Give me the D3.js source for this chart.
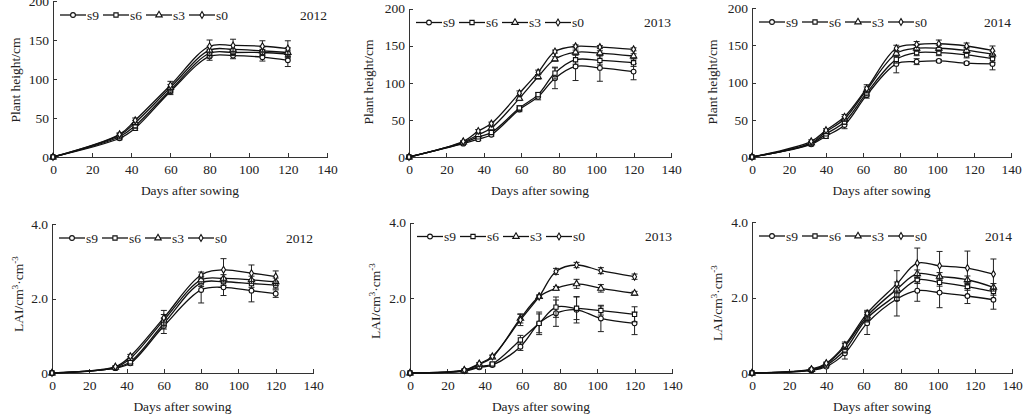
<!doctype html>
<html>
<head>
<meta charset="utf-8">
<script src="https://cdn.jsdelivr.net/npm/d3@7"></script>
<style>
  body { margin: 0; background: #fff; }
  svg { display: block; font-family: "Liberation Serif", "Times New Roman", serif; }
  .axis path, .axis line { stroke: #333; shape-rendering: crispEdges; }
  .axis text { font-size: 13.5px; fill: #222; font-family: "Liberation Serif", serif; }
  .lbl { font-size: 13.5px; fill: #222; }
</style>
</head>
<body>
<svg width="1027" height="414"></svg>
<script>
// sampling days for each year
var days2012 = [0, 34, 42, 60, 80, 92, 107, 120];
var days2013 = [0, 29, 37, 44, 59, 69, 78, 89, 102, 120];
var days2014 = [0, 32, 40, 50, 62, 78, 89, 101, 116, 130];

var seriesNames = ["s9", "s6", "s3", "s0"];
var xTicks = [0, 20, 40, 60, 80, 100, 120, 140];
var heightTicks = [0, 50, 100, 150, 200];
var laiTicks = [0, 2, 4];

// plant height (cm)
var h12_s9 = [0, 24, 37, 84, 129, 130, 128, 124];
var h12_s6 = [0, 26, 40, 86, 133, 134, 134, 132];
var h12_s3 = [0, 28, 44, 89, 137, 138, 136, 134];
var h12_s0 = [0, 29, 47, 92, 142, 143, 142, 139];
var h12_s9_e = [0, 2, 3, 4, 5, 4, 5, 8];
var h12_s6_e = [0, 2, 3, 4, 5, 4, 4, 5];
var h12_s3_e = [0, 2, 3, 4, 5, 5, 5, 6];
var h12_s0_e = [0, 2, 3, 5, 8, 8, 7, 10];

var h13_s9 = [0, 18, 24, 30, 64, 81, 106, 122, 120, 115];
var h13_s6 = [0, 19, 27, 33, 66, 84, 113, 131, 130, 127];
var h13_s3 = [0, 20, 30, 39, 79, 108, 132, 141, 140, 136];
var h13_s0 = [0, 21, 35, 45, 86, 114, 142, 149, 148, 145];
var h13_s9_e = [0, 1, 2, 2, 3, 4, 14, 19, 18, 11];
var h13_s6_e = [0, 1, 2, 2, 3, 3, 8, 6, 6, 5];
var h13_s3_e = [0, 1, 2, 2, 3, 3, 3, 3, 3, 3];
var h13_s0_e = [0, 1, 2, 2, 3, 3, 2, 2, 2, 2];

var h14_s9 = [0, 17, 28, 43, 83, 125, 128, 129, 126, 125];
var h14_s6 = [0, 18, 31, 47, 86, 131, 140, 140, 137, 132];
var h14_s3 = [0, 19, 34, 51, 90, 139, 146, 146, 143, 138];
var h14_s0 = [0, 21, 36, 54, 92, 146, 151, 152, 149, 143];
var h14_s9_e = [0, 2, 3, 5, 4, 12, 4, 2, 2, 8];
var h14_s6_e = [0, 2, 2, 3, 4, 5, 4, 4, 4, 5];
var h14_s3_e = [0, 2, 2, 3, 4, 4, 4, 4, 4, 4];
var h14_s0_e = [0, 2, 2, 3, 5, 4, 4, 5, 4, 6];

// LAI
var l12_s9 = [0, 0.13, 0.26, 1.26, 2.23, 2.30, 2.21, 2.13];
var l12_s6 = [0, 0.14, 0.30, 1.33, 2.42, 2.45, 2.40, 2.36];
var l12_s3 = [0, 0.15, 0.39, 1.42, 2.50, 2.54, 2.50, 2.45];
var l12_s0 = [0, 0.17, 0.45, 1.48, 2.63, 2.77, 2.68, 2.59];
var l12_s9_e = [0, 0.02, 0.05, 0.2, 0.35, 0.22, 0.3, 0.1];
var l12_s6_e = [0, 0.02, 0.05, 0.15, 0.1, 0.1, 0.1, 0.1];
var l12_s3_e = [0, 0.02, 0.05, 0.15, 0.1, 0.1, 0.1, 0.1];
var l12_s0_e = [0, 0.02, 0.05, 0.2, 0.08, 0.3, 0.22, 0.15];

var l13_s9 = [0, 0.05, 0.15, 0.21, 0.70, 1.32, 1.59, 1.68, 1.45, 1.32];
var l13_s6 = [0, 0.06, 0.17, 0.24, 0.88, 1.32, 1.75, 1.72, 1.66, 1.56];
var l13_s3 = [0, 0.07, 0.23, 0.42, 1.45, 2.03, 2.25, 2.37, 2.25, 2.12];
var l13_s0 = [0, 0.08, 0.25, 0.44, 1.41, 2.03, 2.70, 2.87, 2.72, 2.56];
var l13_s9_e = [0, 0.02, 0.03, 0.04, 0.1, 0.3, 0.35, 0.35, 0.35, 0.3];
var l13_s6_e = [0, 0.02, 0.03, 0.04, 0.12, 0.25, 0.27, 0.3, 0.12, 0.2];
var l13_s3_e = [0, 0.02, 0.03, 0.04, 0.12, 0.04, 0.05, 0.12, 0.1, 0.05];
var l13_s0_e = [0, 0.02, 0.03, 0.04, 0.15, 0.04, 0.08, 0.07, 0.08, 0.07];

var l14_s9 = [0, 0.07, 0.17, 0.52, 1.32, 1.96, 2.18, 2.13, 2.04, 1.94];
var l14_s6 = [0, 0.08, 0.21, 0.61, 1.45, 2.07, 2.47, 2.40, 2.29, 2.16];
var l14_s3 = [0, 0.09, 0.24, 0.70, 1.51, 2.22, 2.63, 2.56, 2.47, 2.27];
var l14_s0 = [0, 0.10, 0.26, 0.74, 1.58, 2.36, 2.91, 2.84, 2.78, 2.62];
var l14_s9_e = [0, 0.02, 0.03, 0.15, 0.3, 0.45, 0.28, 0.4, 0.2, 0.25];
var l14_s6_e = [0, 0.02, 0.03, 0.08, 0.1, 0.15, 0.1, 0.1, 0.1, 0.1];
var l14_s3_e = [0, 0.02, 0.03, 0.08, 0.1, 0.1, 0.1, 0.1, 0.1, 0.1];
var l14_s0_e = [0, 0.02, 0.03, 0.08, 0.08, 0.35, 0.4, 0.38, 0.45, 0.4];

var symbols = [d3.symbolCircle, d3.symbolSquare, d3.symbolTriangle, d3.symbolDiamond];
var symSizes = [18, 18, 18, 14];

// panel boxes (pixel layout)
var panels = [
  {x0: 53, x1: 327, y0: 157, y1: 1, year: "2012", days: days2012, kind: "h",
   vals: [h12_s9, h12_s6, h12_s3, h12_s0], errs: [h12_s9_e, h12_s6_e, h12_s3_e, h12_s0_e], yt: [15, 80]},
  {x0: 409, x1: 671, y0: 157, y1: 8.5, year: "2013", days: days2013, kind: "h",
   vals: [h13_s9, h13_s6, h13_s3, h13_s0], errs: [h13_s9_e, h13_s6_e, h13_s3_e, h13_s0_e], yt: [368, 82]},
  {x0: 752, x1: 1011, y0: 157, y1: 8, year: "2014", days: days2014, kind: "h",
   vals: [h14_s9, h14_s6, h14_s3, h14_s0], errs: [h14_s9_e, h14_s6_e, h14_s3_e, h14_s0_e], yt: [712, 82]},
  {x0: 52, x1: 313, y0: 373, y1: 224, year: "2012", days: days2012, kind: "l",
   vals: [l12_s9, l12_s6, l12_s3, l12_s0], errs: [l12_s9_e, l12_s6_e, l12_s3_e, l12_s0_e], yt: [18, 294]},
  {x0: 410, x1: 672, y0: 373, y1: 222.5, year: "2013", days: days2013, kind: "l",
   vals: [l13_s9, l13_s6, l13_s3, l13_s0], errs: [l13_s9_e, l13_s6_e, l13_s3_e, l13_s0_e], yt: [375, 301]},
  {x0: 752, x1: 1012, y0: 373, y1: 222, year: "2014", days: days2014, kind: "l",
   vals: [l14_s9, l14_s6, l14_s3, l14_s0], errs: [l14_s9_e, l14_s6_e, l14_s3_e, l14_s0_e], yt: [717, 303]}
];

var svg = d3.select("svg");

panels.forEach(function(p) {
  var x = d3.scaleLinear().domain([0, 140]).range([p.x0, p.x1]);
  var y = p.kind == "h"
    ? d3.scaleLinear().domain([0, 200]).range([p.y0, p.y1])
    : d3.scaleLinear().domain([0, 4]).range([p.y0, p.y1]);

  var g = svg.append("g");

  g.append("g").attr("class", "axis")
    .attr("transform", "translate(0," + p.y0 + ")")
    .call(d3.axisBottom(x).tickValues(xTicks).tickSizeInner(-4).tickSizeOuter(0).tickPadding(7));

  var yAxis = d3.axisLeft(y).tickSizeInner(-4).tickSizeOuter(0).tickPadding(4);
  if (p.kind == "h") yAxis.tickValues(heightTicks).tickFormat(d3.format("d"));
  else yAxis.tickValues(laiTicks).tickFormat(function(d) { return d == 0 ? "0" : d3.format(".1f")(d); });
  g.append("g").attr("class", "axis")
    .attr("transform", "translate(" + p.x0 + ",0)")
    .call(yAxis);

  // titles
  g.append("text").attr("class", "lbl")
    .attr("x", (p.x0 + p.x1) / 2).attr("y", p.y0 + 33)
    .attr("dy", "0.35em").attr("text-anchor", "middle")
    .text("Days after sowing");

  var yt = g.append("text").attr("class", "lbl")
    .attr("transform", "translate(" + p.yt[0] + "," + p.yt[1] + ") rotate(-90)")
    .attr("dy", "0.35em").attr("text-anchor", "middle");
  if (p.kind == "h") {
    yt.text("Plant height/cm");
  } else {
    yt.append("tspan").text("LAI/cm");
    yt.append("tspan").attr("font-size", "9px").attr("dy", "-5").text("3");
    yt.append("tspan").attr("dy", "5").text("·cm");
    yt.append("tspan").attr("font-size", "9px").attr("dy", "-5").text("-3");
  }

  var line = d3.line()
    .x(function(d) { return x(d[0]); })
    .y(function(d) { return y(d[1]); })
    .curve(d3.curveCatmullRom.alpha(0.5));

  p.vals.forEach(function(vals, si) {
    var pts = p.days.map(function(d, i) { return [d, vals[i], p.errs[si][i]]; });
    var sg = g.append("g");

    sg.append("path").datum(pts).attr("d", line)
      .attr("fill", "none").attr("stroke", "#111").attr("stroke-width", 1.3);

    // error bars
    var eb = sg.selectAll("g.eb").data(pts.filter(function(d) { return d[2] > 0; }))
      .enter().append("g").attr("stroke", "#222").attr("stroke-width", 1);
    eb.append("line")
      .attr("x1", function(d) { return x(d[0]); }).attr("x2", function(d) { return x(d[0]); })
      .attr("y1", function(d) { return y(d[1] - d[2]); }).attr("y2", function(d) { return y(d[1] + d[2]); });
    eb.append("line")
      .attr("x1", function(d) { return x(d[0]) - 3; }).attr("x2", function(d) { return x(d[0]) + 3; })
      .attr("y1", function(d) { return y(d[1] + d[2]); }).attr("y2", function(d) { return y(d[1] + d[2]); });
    eb.append("line")
      .attr("x1", function(d) { return x(d[0]) - 3; }).attr("x2", function(d) { return x(d[0]) + 3; })
      .attr("y1", function(d) { return y(d[1] - d[2]); }).attr("y2", function(d) { return y(d[1] - d[2]); });

    sg.selectAll("path.mk").data(pts).enter().append("path")
      .attr("class", "mk")
      .attr("transform", function(d) { return "translate(" + x(d[0]) + "," + y(d[1]) + ")"; })
      .attr("d", d3.symbol().type(symbols[si]).size(symSizes[si]))
      .attr("fill", "#fff").attr("stroke", "#111").attr("stroke-width", 1.1);
  });

  // legend
  var ly = p.y1 + 14;
  var lg = g.append("g");
  seriesNames.forEach(function(name, i) {
    var lx = p.x0 + 7 + i * 43;
    lg.append("line").attr("x1", lx).attr("x2", lx + 26).attr("y1", ly).attr("y2", ly)
      .attr("stroke", "#111").attr("stroke-width", 1.3);
    lg.append("path").attr("transform", "translate(" + (lx + 13) + "," + ly + ")")
      .attr("d", d3.symbol().type(symbols[i]).size(symSizes[i]))
      .attr("fill", "#fff").attr("stroke", "#111").attr("stroke-width", 1.1);
    lg.append("text").attr("class", "lbl").attr("x", lx + 27).attr("y", ly)
      .attr("dy", "0.35em").text(name);
  });
  g.append("text").attr("class", "lbl").attr("x", p.x1).attr("y", ly)
    .attr("dy", "0.35em").attr("text-anchor", "end").text(p.year);
});
</script>
</body>
</html>
